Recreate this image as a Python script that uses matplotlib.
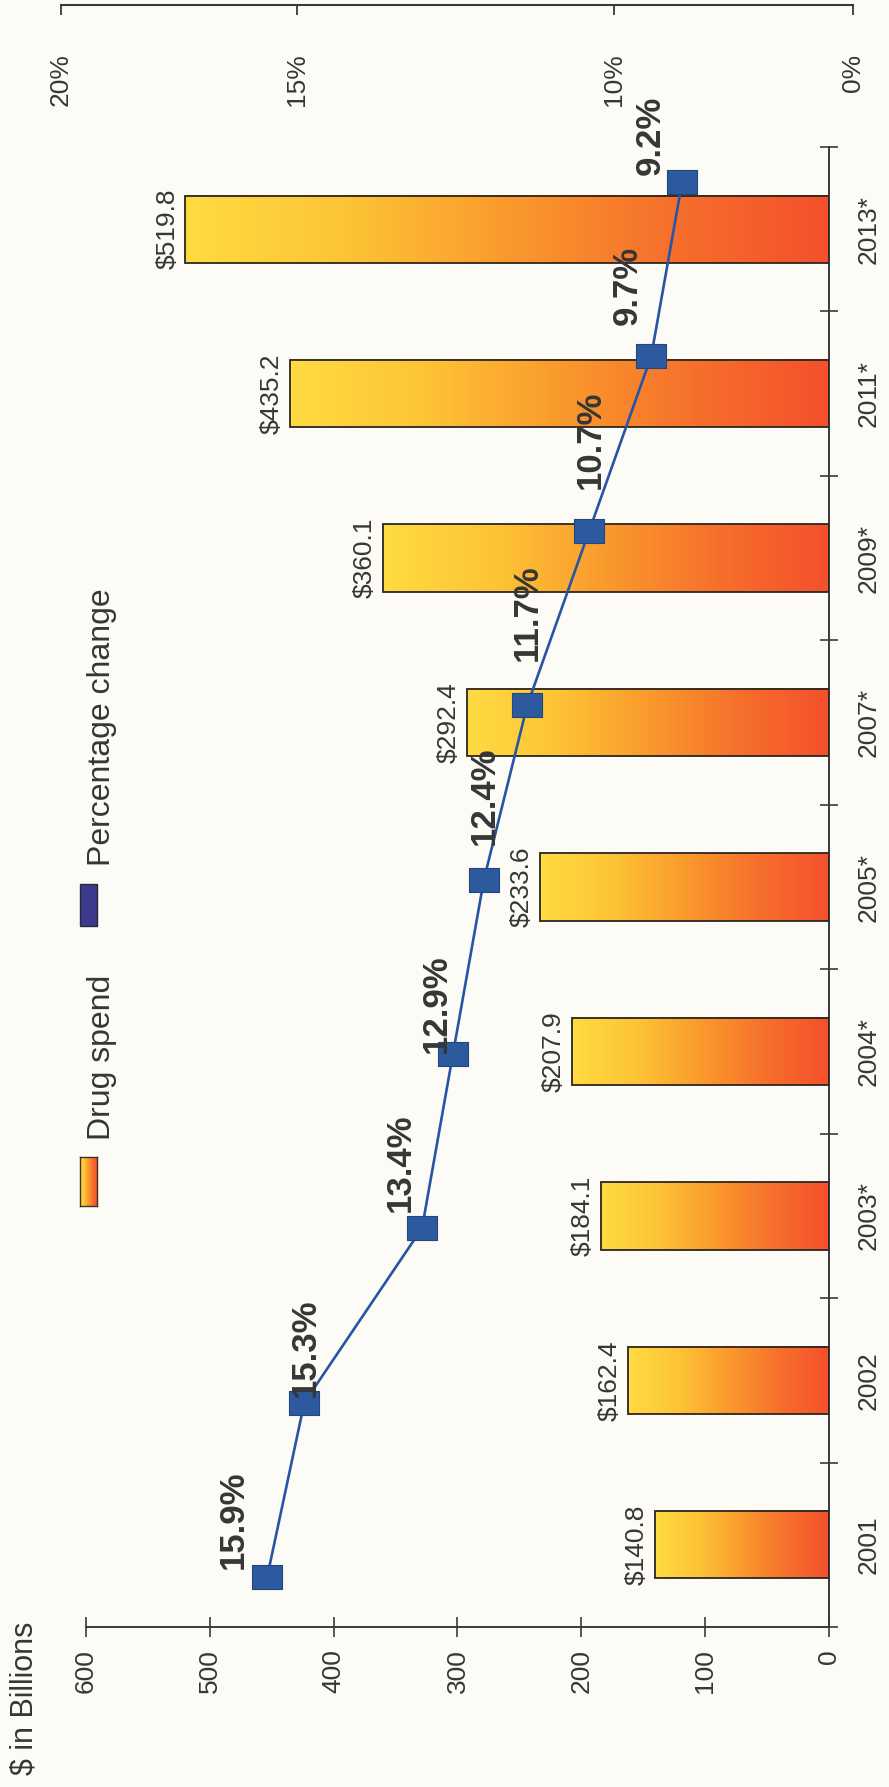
import numpy as np
import matplotlib
matplotlib.use('Agg')
import matplotlib.pyplot as plt
from matplotlib.colors import LinearSegmentedColormap
from matplotlib.patches import Rectangle

# ---- data -------------------------------------------------------------
years = ['2001', '2002', '2003*', '2004*', '2005*', '2007*', '2009*', '2011*', '2013*']
drug_spend = [140.8, 162.4, 184.1, 207.9, 233.6, 292.4, 360.1, 435.2, 519.8]
pct_change = [15.9, 15.3, 13.4, 12.9, 12.4, 11.7, 10.7, 9.7, 9.2]
spend_ticks = [0, 100, 200, 300, 400, 500, 600]
pct_ticks = [0, 10, 15, 20]

# ---- layout / style ---------------------------------------------------
W, H, DPI = 889, 1787, 100
plt.rcParams['font.family'] = ['Liberation Sans', 'DejaVu Sans']

BG = '#FCFBF6'
INK = '#363636'
AXIS = '#3A3A3A'
LINE = '#2754A4'
MARKER = '#2D5A9E'

PLOT = (86, 147, 829, 1627)           # plot box in pixels (left, top, right, bottom)
PCT_ZERO_PX, PCT_PX_PER_UNIT = 1252, 61.94
LINE_FIRST_PX, LINE_LAST_PX = 1577, 182
TOP_AXIS = (61, 5, 853, 48)
TOP_TICK_PX = [853, 614, 297, 61]     # positions of 0%, 10%, 15%, 20% on the top rule

# label offsets (pixels) of the bold percentage labels from their markers
pct_label_offsets = [(-34, 57), (1, 55), (-22, 65), (-17, 50), (0, 84),
                     (0, 92), (1, 91), (-24, 71), (-32, 47)]


def frac_rect(x0, y0, x1, y1):
    """Pixel box measured from the top-left corner -> figure fraction rect."""
    return [x0 / W, 1 - y1 / H, (x1 - x0) / W, (y1 - y0) / H]


fig = plt.figure(figsize=(W / DPI, H / DPI), dpi=DPI, facecolor=BG)

# ---- spend bars ---------------------------------------------------------
ax = fig.add_axes(frac_rect(*PLOT))
ax.set_facecolor('none')
n = len(years)
idx = np.arange(n)

bars = ax.barh(idx, drug_spend, height=0.41, facecolor='none',
               edgecolor='#2B2620', linewidth=1.3, zorder=3)
spend_cmap = LinearSegmentedColormap.from_list(
    'spend', ['#F4502B', '#F6702C', '#FA9A2D', '#FDC436', '#FFDB42'])
gradient = np.linspace(0, 1, 256).reshape(1, -1)
for bar in bars:
    x0, y0 = bar.get_x(), bar.get_y()
    w, h = bar.get_width(), bar.get_height()
    ax.imshow(gradient, cmap=spend_cmap, extent=[x0, x0 + w, y0, y0 + h],
              aspect='auto', interpolation='bilinear', zorder=2)

for i, v in enumerate(drug_spend):
    ax.annotate(f'${v:.1f}', xy=(v, i), xytext=(-6, 0), textcoords='offset pixels',
                rotation=90, ha='right', va='center', fontsize=19, color=INK)

ax.set_xlim(600, 0)
ax.set_ylim(-0.5, n - 0.5)
for side in ('left', 'top'):
    ax.spines[side].set_visible(False)
for side in ('bottom', 'right'):
    ax.spines[side].set_color(AXIS)
    ax.spines[side].set_linewidth(1.4)

ax.set_xticks(spend_ticks, labels=[str(t) for t in spend_ticks])
ax.tick_params(axis='x', direction='inout', length=14, width=1.2, color=AXIS,
               labelcolor=INK, labelsize=19, pad=9, labelrotation=90)

ax.yaxis.tick_right()
ax.set_yticks(np.arange(n + 1) - 0.5, labels=[''] * (n + 1))
ax.set_yticks(idx, labels=years, minor=True)
ax.tick_params(axis='y', which='major', direction='inout', length=13.5, width=1.2,
               color=AXIS, left=False, right=True)
ax.tick_params(axis='y', which='minor', length=0, pad=20, labelsize=19,
               labelcolor=INK, left=False, right=True, labelleft=False,
               labelright=True, labelrotation=90)
for t in ax.get_yticklabels(minor=True):
    t.set_va('center')

# ---- percentage change line ------------------------------------------
ax_line = fig.add_axes(frac_rect(*PLOT))
ax_line.set_facecolor('none')
ax_line.axis('off')
ax_line.set_xlim((PCT_ZERO_PX - PLOT[0]) / PCT_PX_PER_UNIT,
                 (PCT_ZERO_PX - PLOT[2]) / PCT_PX_PER_UNIT)
row_px = (LINE_FIRST_PX - LINE_LAST_PX) / (n - 1)
ax_line.set_ylim(-(PLOT[3] - LINE_FIRST_PX) / row_px,
                 (n - 1) + (LINE_LAST_PX - PLOT[1]) / row_px)

rect_marker = [(-15.5, -12.5), (15.5, -12.5), (15.5, 12.5), (-15.5, 12.5), (-15.5, -12.5)]
ax_line.plot(pct_change, idx, color=LINE, lw=1.9, zorder=4)
ax_line.plot(pct_change, idx, linestyle='none', marker=rect_marker, markersize=22.3,
             markerfacecolor=MARKER, markeredgecolor='#22467E', markeredgewidth=0.8,
             zorder=5)
for i, (p, off) in enumerate(zip(pct_change, pct_label_offsets)):
    ax_line.annotate(f'{p}%', xy=(p, i), xytext=off, textcoords='offset pixels',
                     rotation=90, ha='center', va='center', fontsize=25,
                     fontweight='bold', color=INK, zorder=6)

# ---- percentage rule along the top -------------------------------------
dist = [TOP_TICK_PX[0] - px for px in TOP_TICK_PX]


def pct_fwd(p):
    return np.interp(p, pct_ticks, dist)


def pct_inv(u):
    return np.interp(u, dist, pct_ticks)


ax_top = fig.add_axes(frac_rect(*TOP_AXIS))
ax_top.set_facecolor('none')
ax_top.set_xscale('function', functions=(pct_fwd, pct_inv))
ax_top.set_xlim(20, 0)
for side in ('left', 'right', 'bottom'):
    ax_top.spines[side].set_visible(False)
ax_top.spines['top'].set_color(AXIS)
ax_top.spines['top'].set_linewidth(1.5)
ax_top.set_yticks([])
ax_top.set_xticks(pct_ticks, labels=[f'{t}%' for t in pct_ticks])
ax_top.xaxis.set_minor_locator(matplotlib.ticker.NullLocator())
ax_top.tick_params(axis='x', top=True, bottom=False, labeltop=False, labelbottom=True,
                   direction='in', length=7.5, width=1.3, color=AXIS,
                   labelcolor=INK, labelsize=19, pad=4, labelrotation=90)

# ---- legend ----------------------------------------------------------
ax_sw = fig.add_axes(frac_rect(80, 1157, 97, 1206))
ax_sw.imshow(gradient[:, ::-1], cmap=spend_cmap, aspect='auto', interpolation='bilinear')
ax_sw.set_xticks([])
ax_sw.set_yticks([])
for s in ax_sw.spines.values():
    s.set_color('#3A3328')
    s.set_linewidth(1.0)

fig.add_artist(Rectangle((80 / W, 1 - 926 / H), 17 / W, 42 / H,
                         transform=fig.transFigure, facecolor='#3B3A8C',
                         edgecolor='#2A2A36', linewidth=1.0))

fig.text(102 / W, 1 - 1140 / H, 'Drug spend', rotation=90, ha='center', va='bottom',
         fontsize=23, color=INK)
fig.text(102 / W, 1 - 866 / H, 'Percentage change', rotation=90, ha='center',
         va='bottom', fontsize=23, color=INK)

fig.text(25 / W, 1 - 1698 / H, '$ in Billions', rotation=90, ha='center', va='center',
         fontsize=22, color=INK)

fig.savefig('out.png', dpi=DPI, facecolor=BG)
